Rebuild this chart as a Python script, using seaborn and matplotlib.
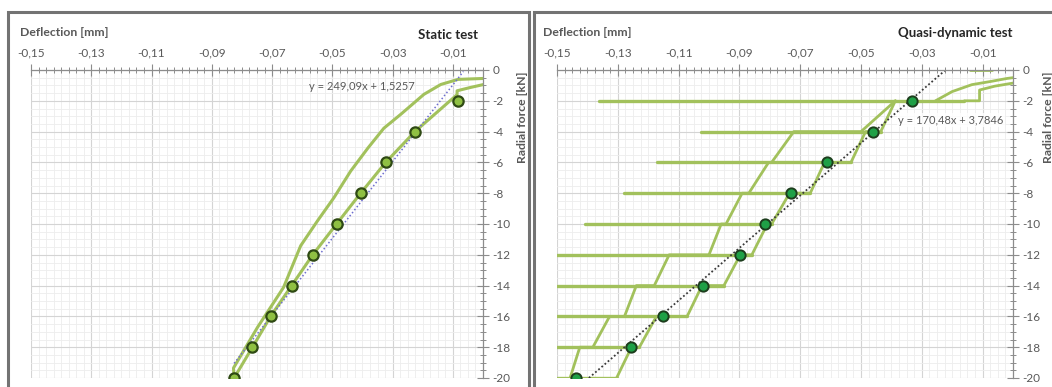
import numpy as np
import pandas as pd
import matplotlib.pyplot as plt
import seaborn as sns
from matplotlib.patches import Rectangle
from matplotlib.ticker import MultipleLocator, FuncFormatter

sns.set_theme(style="white")
plt.rcParams['font.family'] = ['Lato', 'DejaVu Sans']

# ---- static test (left) ----
static_up_x = [0.0, -0.0083, -0.0140, -0.0196, -0.0273, -0.0329, -0.0382, -0.0439,
               -0.0495, -0.0549, -0.0605, -0.0662, -0.0748, -0.0828, -0.0826]
static_up_y = [-0.55, -0.61, -0.94, -1.58, -2.88, -3.78, -5.07, -6.56,
               -8.30, -9.79, -11.41, -14.12, -16.70, -19.35, -20.0]
static_low_x = [0.0, -0.0045, -0.0086, -0.0086, -0.0226, -0.0323, -0.0406, -0.0486,
                -0.0565, -0.0635, -0.0705, -0.0765, -0.0826]
static_low_y = [-0.95, -1.15, -1.35, -1.6, -4, -6, -8, -10, -12, -14, -16, -18, -20]
static_pts_x = [-0.0083, -0.0226, -0.0323, -0.0406, -0.0486, -0.0565, -0.0635,
                -0.0705, -0.0765, -0.0825]
force_levels = [-2, -4, -6, -8, -10, -12, -14, -16, -18, -20]
static_fit = (249.09, 1.5257)
static_fit_x = [-0.0826, -0.0065]

# ---- quasi-dynamic test (right) ----
hold_start = [-0.1363, -0.1026, -0.117, -0.1278, -0.1408, -0.15, -0.15, -0.15, -0.15, -0.15]
hold_end = [-0.016, -0.0435, -0.0533, -0.0667, -0.0794, -0.0859, -0.0951, -0.1072, -0.1229, -0.1304]
left_chain_x = [-0.1457, -0.1425, -0.1382, -0.1327, -0.1278, -0.1239, -0.118, -0.1131,
                -0.100, -0.096, -0.0944, -0.0891, -0.0869, -0.0804, -0.0794, -0.0721,
                -0.050, -0.0387]
left_chain_y = [-20, -18, -18, -16, -16, -14, -14, -12, -12, -10, -10, -8, -8, -6, -6, -4, -4, -2]
right_chain_x = [-0.1304, -0.1255, -0.1229, -0.1173, -0.1072, -0.1023, -0.0951, -0.0897,
                 -0.0859, -0.0808, -0.0794, -0.0735, -0.0667, -0.0620, -0.0533, -0.0485,
                 -0.0435, -0.0387]
right_chain_y = [-20, -18, -18, -16, -16, -14, -14, -12, -12, -10, -10, -8, -8, -6, -6, -4, -4, -2]
top_out_x = [-0.0255, -0.020, -0.0135, -0.0075, -0.002, 0.0]
top_out_y = [-2.0, -1.4, -0.95, -0.75, -0.55, -0.5]
top_in_x = [0.0, -0.006, -0.011, -0.011, -0.016]
top_in_y = [-0.85, -1.05, -1.3, -2.0, -2.0]
top_seg_x = [-0.014, -0.007]
top_seg_y = [0.0, 0.0]
qd_pts_x = [-0.0333, -0.0461, -0.0611, -0.0729, -0.0817, -0.0899, -0.1020, -0.1150,
            -0.1258, -0.1438]
qd_fit = (170.48, 3.7846)
qd_fit_x = [-0.1395, -0.0200]

line_c = '#a2c15c'
W, H = 1052, 387
fig = plt.figure(figsize=(W / 100, H / 100), dpi=100)

fig.patches.append(Rectangle((8 / W, -0.02), 521 / W, 1 - 12 / H + 0.02, transform=fig.transFigure,
                             fill=False, edgecolor='#737373', lw=2.2))
fig.patches.append(Rectangle((534 / W, -0.02), 530 / W, 1 - 12 / H + 0.02, transform=fig.transFigure,
                             fill=False, edgecolor='#737373', lw=2.2))

ax1 = fig.add_axes([31 / W, 9 / H, 452 / W, 308 / H])
ax2 = fig.add_axes([557 / W, 9 / H, 456 / W, 308 / H])


def style_axes(ax):
    ax.set_xlim(-0.15, 0)
    ax.set_ylim(-20, 0)
    ax.xaxis.tick_top()
    ax.yaxis.tick_right()
    ax.set_xticks(np.arange(-0.15, -0.005, 0.02))
    ax.xaxis.set_minor_locator(MultipleLocator(0.0025))
    ax.set_yticks(np.arange(-20, 1, 2))
    ax.yaxis.set_minor_locator(MultipleLocator(0.5))
    ax.xaxis.set_major_formatter(FuncFormatter(lambda v, p: f"{v:.2f}".replace('.', ',')))
    ax.yaxis.set_major_formatter(FuncFormatter(lambda v, p: f"{v:.0f}"))
    ax.tick_params(which='major', direction='inout', length=8, width=0.8, color='#8c8c8c',
                   labelsize=8.5, labelcolor='#595959')
    ax.tick_params(which='minor', direction='inout', length=5, width=0.7, color='#8c8c8c')
    ax.tick_params(axis='x', which='major', pad=4)
    ax.tick_params(axis='y', which='major', pad=3)
    for s in ['left', 'bottom']:
        ax.spines[s].set_visible(False)
    for s in ['top', 'right']:
        ax.spines[s].set_color('#8c8c8c')
        ax.spines[s].set_linewidth(0.9)
    ax.grid(which='major', color='#d4d4d4', lw=0.8)
    ax.grid(which='minor', color='#ededed', lw=0.6)
    ax.set_axisbelow(True)
    ax.set_xlabel('')
    ax.set_ylabel('')


def draw_line(ax, xs, ys, lw=2.0):
    sns.lineplot(x=xs, y=ys, sort=False, estimator=None, color=line_c, lw=lw, ax=ax)


# left panel
draw_line(ax1, static_up_x, static_up_y, lw=2.2)
draw_line(ax1, static_low_x, static_low_y, lw=2.2)
fx = np.array(static_fit_x)
ax1.plot(fx, static_fit[0] * fx + static_fit[1], ls=(0, (1, 1.5)), color='#6f6fcf', lw=1.1)
sns.scatterplot(x=static_pts_x, y=force_levels, color='#8fc043', edgecolor='#2f4a14',
                linewidth=1.6, s=55, zorder=5, ax=ax1)
ax1.text(-0.0402, -1.05, "y = 249,09x + 1,5257", fontsize=8, color='#595959',
         ha='center', va='center')
style_axes(ax1)

# right panel
for y0, xa, xb in zip(force_levels, hold_start, hold_end):
    draw_line(ax2, [xa, xb], [y0, y0], lw=2.4)
draw_line(ax2, left_chain_x, left_chain_y)
draw_line(ax2, right_chain_x, right_chain_y)
draw_line(ax2, top_out_x, top_out_y)
draw_line(ax2, top_in_x, top_in_y)
draw_line(ax2, top_seg_x, top_seg_y)
fx = np.array(qd_fit_x)
ax2.plot(fx, qd_fit[0] * fx + qd_fit[1], ls=(0, (1, 1.3)), color='#3a3a3a', lw=1.3)
sns.scatterplot(x=qd_pts_x, y=force_levels, color='#1fa046', edgecolor='#1d3d1d',
                linewidth=1.4, s=55, zorder=5, ax=ax2)
ax2.text(-0.0204, -3.25, "y = 170,48x + 3,7846", fontsize=8, color='#595959',
         ha='center', va='center',
         bbox=dict(boxstyle='square,pad=0.1', fc='white', ec='none', alpha=0.8))
style_axes(ax2)

# labels
lab = dict(fontsize=8.8, fontweight='bold', color='#595959')
fig.text(20 / W, 1 - 32 / H, "Deflection [mm]", ha='left', va='center', **lab)
fig.text(543 / W, 1 - 32 / H, "Deflection [mm]", ha='left', va='center', **lab)
fig.text(478 / W, 1 - 35 / H, "Static test", ha='right', va='center', fontsize=9.5,
         fontweight='bold', color='#262626')
fig.text(1012 / W, 1 - 33 / H, "Quasi-dynamic test", ha='right', va='center', fontsize=9.5,
         fontweight='bold', color='#262626')
fig.text(522 / W, 1 - 117 / H, "Radial force [kN]", rotation=90, ha='center', va='center', **lab)
fig.text(1048 / W, 1 - 117 / H, "Radial force [kN]", rotation=90, ha='center', va='center', **lab)

fig.savefig('out.png', dpi=100)
